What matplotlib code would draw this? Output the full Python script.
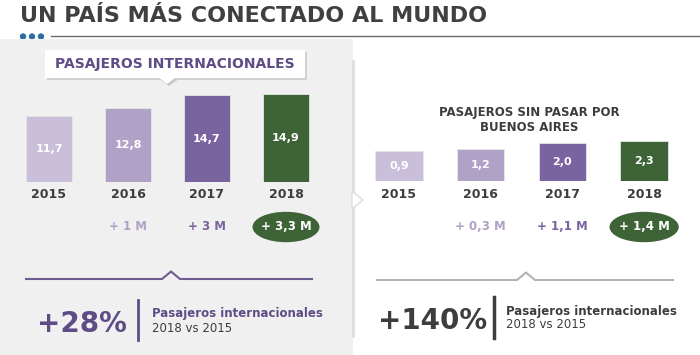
import numpy as np
import matplotlib
matplotlib.use("Agg")
import matplotlib.pyplot as plt
from matplotlib.patches import Rectangle, Polygon, Ellipse
from matplotlib.transforms import blended_transform_factory

# data
years = ["2015", "2016", "2017", "2018"]
intl_vals = [11.7, 12.8, 14.7, 14.9]
intl_labels = ["11,7", "12,8", "14,7", "14,9"]
intl_delta = ["", "+ 1 M", "+ 3 M", "+ 3,3 M"]
direct_vals = [0.9, 1.2, 2.0, 2.3]
direct_labels = ["0,9", "1,2", "2,0", "2,3"]
direct_delta = ["", "+ 0,3 M", "+ 1,1 M", "+ 1,4 M"]

bar_colors = ["#c9bfdb", "#b0a1c6", "#7a64a0", "#3e6337"]
delta_colors = ["#b0a1c6", "#b0a1c6", "#7a64a0", "#ffffff"]
dark = "#3d3d3d"
purple = "#5e4c86"

plt.rcParams['font.family'] = ['DejaVu Sans']

W, H = 700, 355
fig = plt.figure(figsize=(7, 3.55), dpi=100)
fig.patch.set_facecolor("white")

# overlay in pixel coords
bg = fig.add_axes([0, 0, 1, 1])
bg.set_xlim(0, W)
bg.set_ylim(H, 0)
bg.axis("off")

# title + dots
bg.text(20, 16, "UN PAÍS MÁS CONECTADO AL MUNDO", fontsize=16, fontweight="bold",
        color="#404040", ha="left", va="center")
for x in [23, 32, 41]:
    bg.add_patch(Ellipse((x, 36.5), 5, 5, color="#2e6da4"))
bg.plot([51, 700], [36, 36], color="#6a6a6a", lw=1)

# left panel
bg.add_patch(Rectangle((0, 39), 353, 316, color="#f0f0f0", lw=0))
bg.plot([353, 353], [61, 336], color="#dcdcdc", lw=1.8)
bg.add_patch(Polygon([(352, 191), (363, 200), (352, 209)], closed=True,
                     facecolor="white", edgecolor="#dcdcdc", lw=1, zorder=3))

# header box left
bg.add_patch(Rectangle((47, 52), 260, 28, color="#c9c9c9", lw=0, alpha=0.8))
bg.add_patch(Polygon([(159, 79), (169, 86), (179, 79)], closed=True, color="#c9c9c9", lw=0))
bg.add_patch(Rectangle((45, 50), 260, 28, color="white", lw=0))
bg.add_patch(Polygon([(158, 77), (167, 84), (176, 77)], closed=True, color="white", lw=0))
bg.text(175, 64, "PASAJEROS INTERNACIONALES", fontsize=10, fontweight="bold",
        color=purple, ha="center", va="center")

# right header
bg.text(529, 120, "PASAJEROS SIN PASAR POR\nBUENOS AIRES", fontsize=8.5, fontweight="bold",
        color=dark, ha="center", va="center", linespacing=1.25)


def draw_bars(rect, vals, labels, deltas, base, top):
    ax = fig.add_axes(rect)
    ax.set_xlim(-0.5, 3.5)
    ax.set_ylim(base, top)
    ax.axis("off")
    x = np.arange(len(vals))
    ax.bar(x, np.array(vals) - base, bottom=base, width=0.58, color=bar_colors,
           edgecolor="#e6e6e6", linewidth=0.6)
    tr = blended_transform_factory(ax.transData, bg.transData)
    for i in range(len(vals)):
        ax.text(i, (vals[i] + base) / 2, labels[i], color="white", fontsize=8,
                fontweight="bold", ha="center", va="center")
        ax.text(i, 194, years[i], color=dark, fontsize=9, fontweight="bold",
                ha="center", va="center", transform=tr, clip_on=False)
        if deltas[i]:
            if i == len(vals) - 1:
                ax.add_patch(Ellipse((i, 227), 0.83, 29, color=bar_colors[-1],
                                     transform=tr, clip_on=False))
            ax.text(i, 227, deltas[i], color=delta_colors[i], fontsize=8.5,
                    fontweight="bold", ha="center", va="center", transform=tr, clip_on=False)
    return ax


# left bars: bottom at 182 px, 6.84 px per unit, base 2.0
draw_bars([9.5 / W, 1 - 182 / H, 316 / W, 100 / H], intl_vals, intl_labels, intl_delta,
          2.0, 2.0 + 100 / 6.84)
# right bars: bottom at 181 px, 7.64 px per unit, base -3.0
draw_bars([358 / W, 1 - 181 / H, 327 / W, 60 / H], direct_vals, direct_labels, direct_delta,
          -3.0, -3.0 + 60 / 7.64)

# bottom summaries
bg.plot([26, 162, 171, 180, 312], [279, 279, 271.5, 279, 279], color="#6d5c92", lw=1.5)
bg.text(127, 324, "+28%", fontsize=20, fontweight="bold", color=purple, ha="right", va="center")
bg.plot([137.5, 137.5], [300, 340], color=purple, lw=2)
bg.text(152, 313, "Pasajeros internacionales", fontsize=8.5, fontweight="bold",
        color=purple, ha="left", va="center")
bg.text(152, 328, "2018 vs 2015", fontsize=8.5, color=dark, ha="left", va="center")

bg.plot([377, 517, 526, 535, 673], [280, 280, 272.5, 280, 280], color="#b3b3b3", lw=1.5)
bg.text(487, 321, "+140%", fontsize=20, fontweight="bold", color=dark, ha="right", va="center")
bg.plot([494, 494], [297, 338], color=dark, lw=2.5)
bg.text(506, 311, "Pasajeros internacionales", fontsize=8.5, fontweight="bold",
        color=dark, ha="left", va="center")
bg.text(506, 325, "2018 vs 2015", fontsize=8.5, color=dark, ha="left", va="center")

fig.savefig("out.png", dpi=100)
